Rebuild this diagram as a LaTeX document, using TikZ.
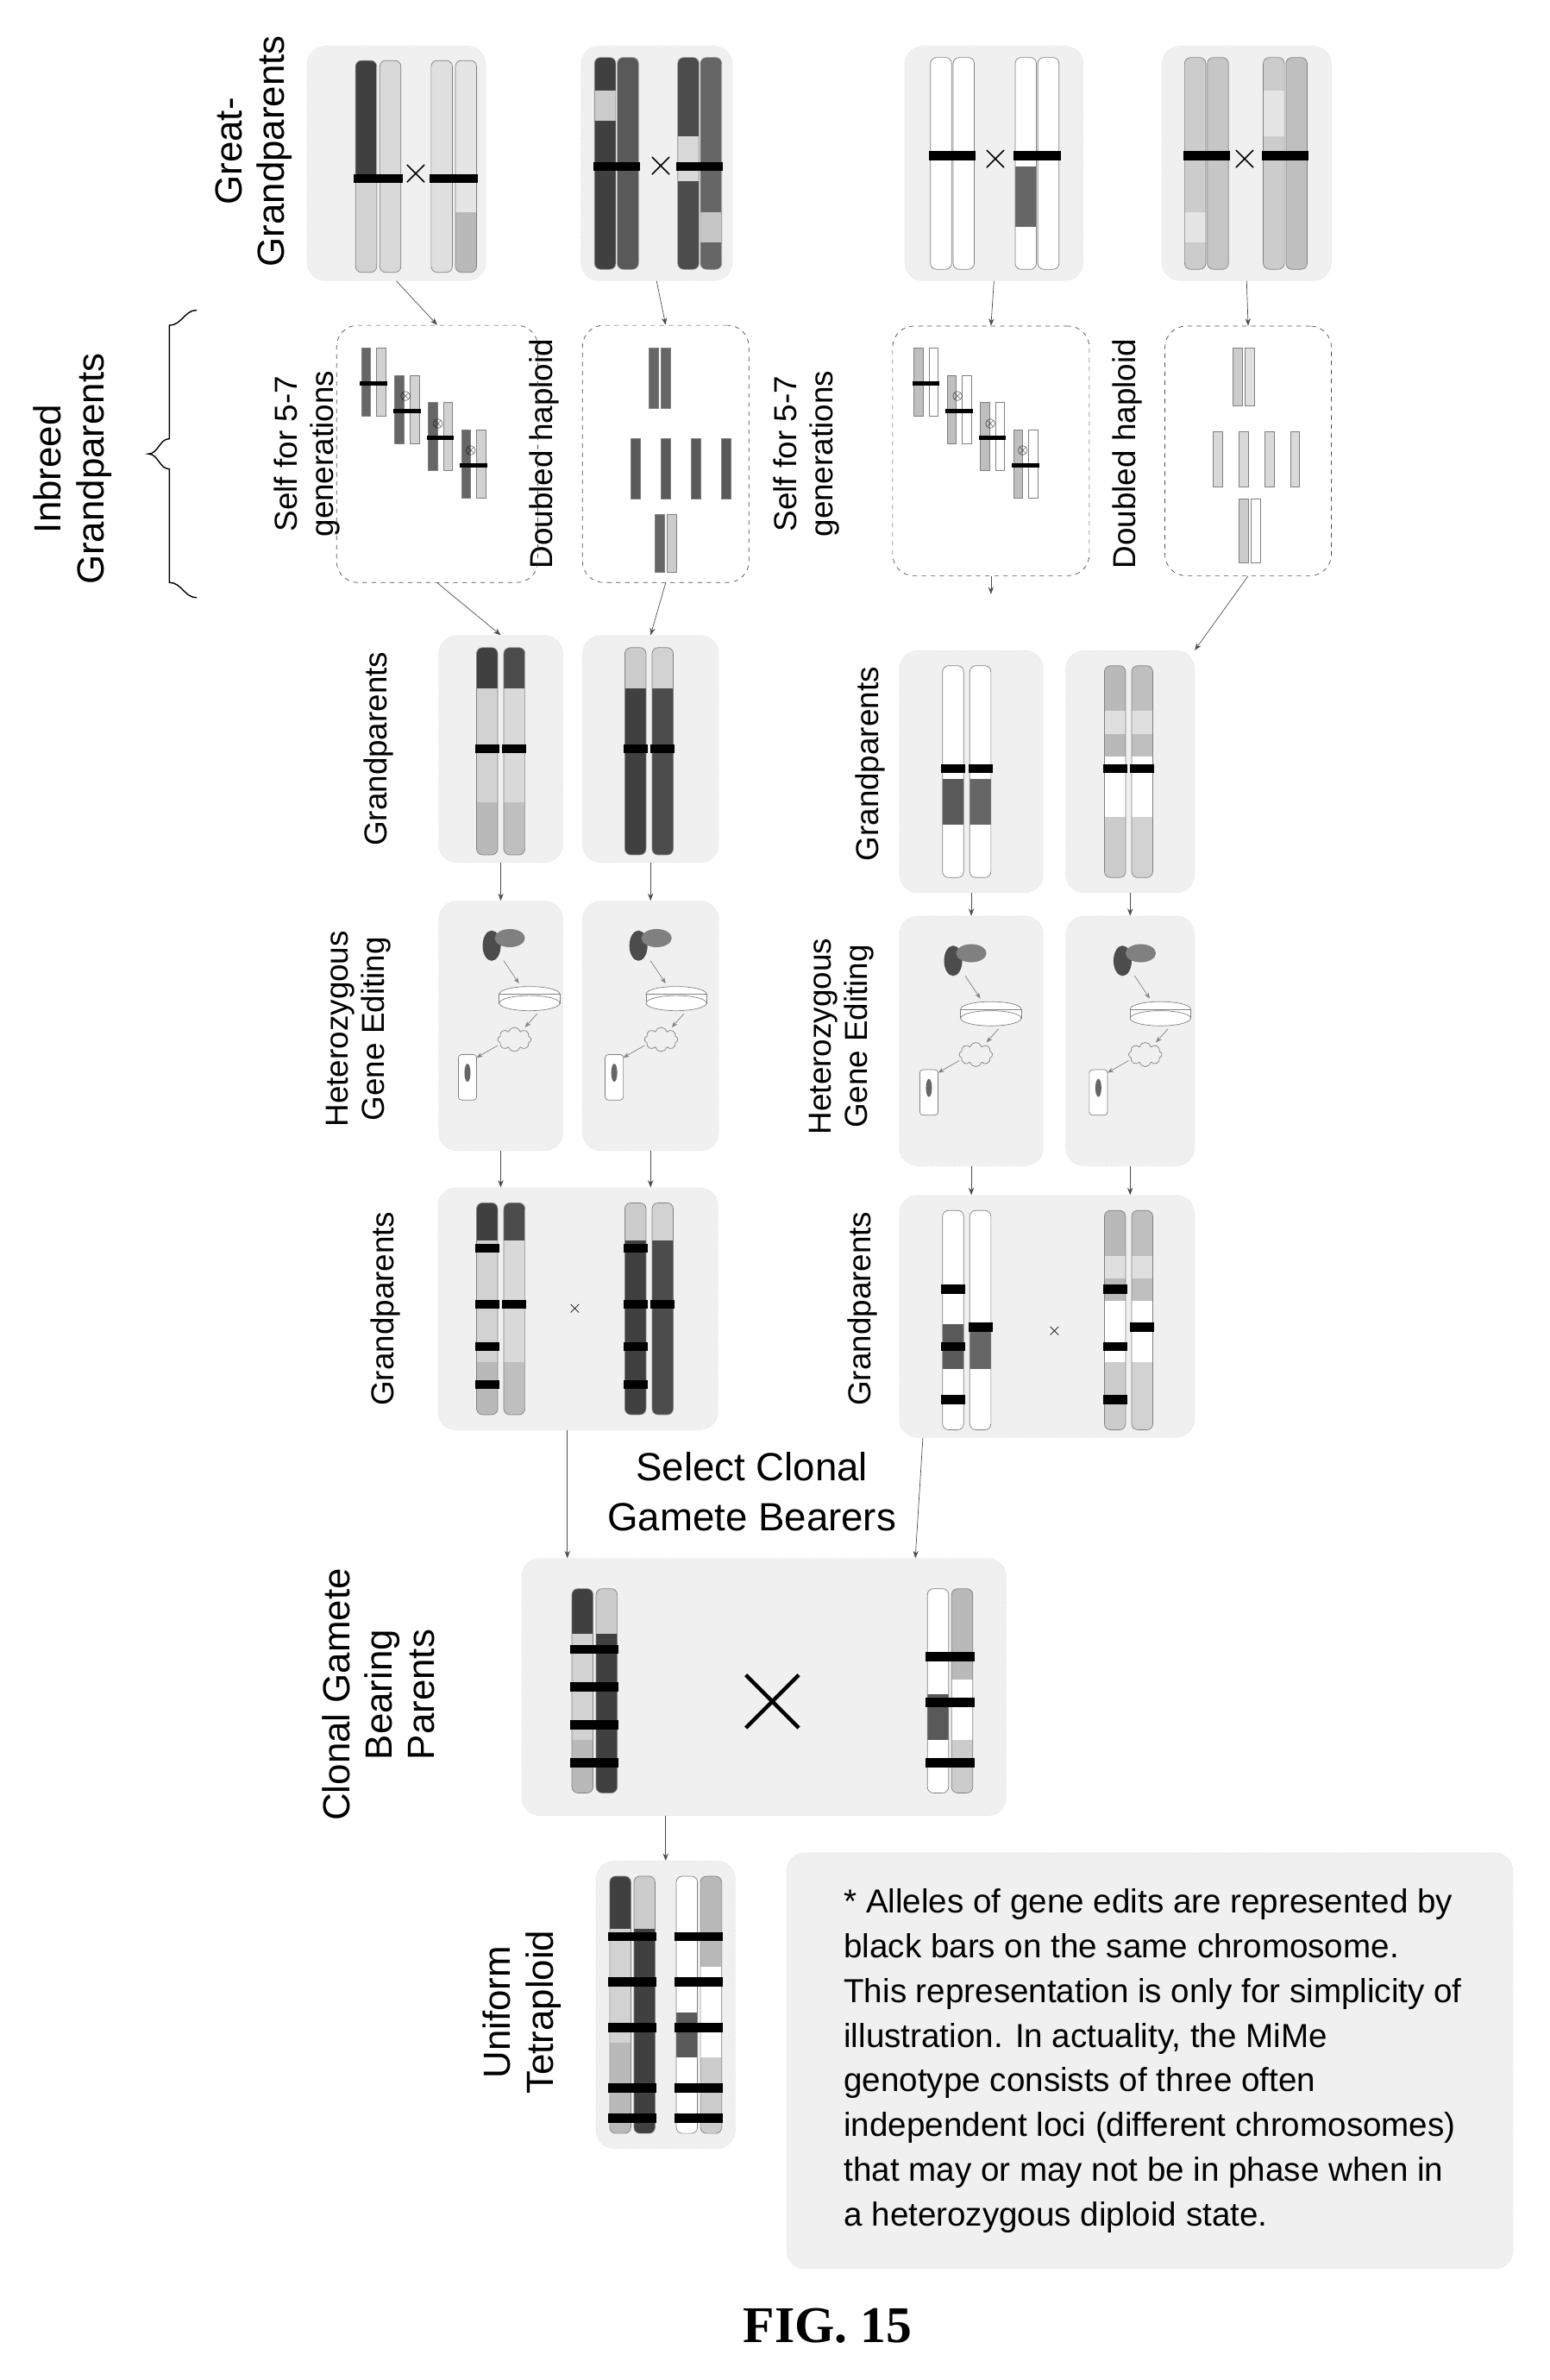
\documentclass[tikz,border=0pt]{standalone}
\usepackage{fontspec}
\setmainfont{Liberation Sans}
\newfontfamily\figfont{Liberation Serif}
\usetikzlibrary{arrows.meta,shapes.symbols}

% chromosome: x, top, bottom, bands {y1/y2/colour}
\newcommand{\chrom}[4]{%
  \begin{scope}
    \clip[rounded corners=4] (#1-7,#2) rectangle (#1+7,#3);
    \fill[white] (#1-7,#2) rectangle (#1+7,#3);
    \foreach \ya/\yb/\cc in {#4} {\fill[\cc] (#1-7,\ya) rectangle (#1+7,\yb);}
  \end{scope}
  \draw[rounded corners=4, gray, thin] (#1-7,#2) rectangle (#1+7,#3);}
% black bar across a chromosome
\newcommand{\edbar}[2]{\fill[black] (#1-8,#2-3) rectangle (#1+8,#2+3);}
% small chromosome
\newcommand{\schrom}[4]{\fill[#4,draw=gray] (#1-3,#2) rectangle (#1+3,#3);}
% editing panel contents centred at x, y
\newcommand{\editing}[2]{%
  \fill[black!70] (#1-10,#2-40) ellipse (6 and 10);
  \fill[black!50] (#1+2,#2-45) ellipse (10 and 6);
  \draw[-{Stealth[length=4pt]}, gray] (#1-2,#2-30) -- (#1+8,#2-15);
  \draw[gray, fill=white] (#1+15,#2-8) ellipse (20 and 5);
  \draw[gray, fill=white] (#1-5,#2-8) rectangle (#1+35,#2-2);
  \draw[gray, fill=white] (#1+15,#2-2) ellipse (20 and 5);
  \node[cloud, draw=gray, cloud puffs=8, minimum width=22pt, minimum height=16pt] at (#1+5,#2+22) {};
  \draw[-{Stealth[length=4pt]}, gray] (#1+20,#2+5) -- (#1+12,#2+14);
  \draw[-{Stealth[length=4pt]}, gray] (#1-6,#2+26) -- (#1-20,#2+34);
  \draw[gray, rounded corners=2, fill=white] (#1-32,#2+32) rectangle (#1-20,#2+62);
  \fill[black!60] (#1-26,#2+44) ellipse (2 and 6);}

\begin{document}
\begin{tikzpicture}[x=1pt, y=-1pt, >=Stealth,
    panel/.style={fill=gray!12, draw=gray!30, densely dotted, rounded corners=12},
    dashbox/.style={draw=black!70, dashed, rounded corners=14},
    lab/.style={rotate=90, font=\fontsize{21}{24}\selectfont, align=center},
    biglab/.style={rotate=90, font=\fontsize{25}{28}\selectfont, align=center},
    arr/.style={->, gray!60!black, thin}]

\useasboundingbox (0,0) rectangle (1024,1573);

% Labels
\node[biglab] (lgg) at (168,100) {Great-\\Grandparents};
\node[biglab] (lig) at (48,310) {Inbreed\\Grandparents};
\draw[thick] (130,205) to[out=180,in=0] (112,215) -- (112,290) to[out=180,in=0] (98,300)
  to[out=0,in=180] (112,310) -- (112,385) to[out=0,in=180] (130,395);
\node[lab] (lsf1) at (203,300) {Self for 5-7\\generations};
\node[lab] (ldh1) at (360,300) {Doubled haploid};
\node[lab] (lsf2) at (533,300) {Self for 5-7\\generations};
\node[lab] (ldh2) at (745,300) {Doubled haploid};

% Great-grandparent panels
\node[panel, minimum width=118pt, minimum height=155pt] (gg1) at (262,108) {};
\node[panel, minimum width=100pt, minimum height=155pt] (gg2) at (434,108) {};
\node[panel, minimum width=118pt, minimum height=155pt] (gg3) at (657,108) {};
\node[panel, minimum width=112pt, minimum height=155pt] (gg4) at (824,108) {};
\chrom{242}{40}{180}{40/120/black!75,120/180/gray!35}
\chrom{258}{40}{180}{40/180/gray!30}
\chrom{292}{40}{180}{40/180/gray!25}
\chrom{308}{40}{180}{40/140/gray!20,140/180/gray!55}
\foreach \x in {242,258,292,308} {\edbar{\x}{118}}
\node[font=\fontsize{30}{30}\selectfont] at (275,115) {$\times$};
\chrom{400}{38}{178}{38/178/black!75,60/80/gray!40}
\chrom{415}{38}{178}{38/178/black!65}
\chrom{455}{38}{178}{38/178/black!70,90/120/gray!30}
\chrom{470}{38}{178}{38/178/black!60,140/160/gray!45}
\foreach \x in {400,415,455,470} {\edbar{\x}{110}}
\node[font=\fontsize{30}{30}\selectfont] at (437,110) {$\times$};
\chrom{622}{38}{178}{38/178/white}
\chrom{637}{38}{178}{38/178/white}
\chrom{678}{38}{178}{110/150/black!60}
\chrom{693}{38}{178}{38/178/white}
\foreach \x in {622,637,678,693} {\edbar{\x}{103}}
\node[font=\fontsize{30}{30}\selectfont] at (658,105) {$\times$};
\chrom{790}{38}{178}{38/178/gray!40,140/160/gray!20}
\chrom{805}{38}{178}{38/178/gray!45}
\chrom{842}{38}{178}{38/178/gray!40,60/90/gray!20}
\chrom{857}{38}{178}{38/178/gray!50}
\foreach \x in {790,805,842,857} {\edbar{\x}{103}}
\node[font=\fontsize{30}{30}\selectfont] at (823,105) {$\times$};

% Inbreeding boxes
\node[dashbox, minimum width=133pt, minimum height=170pt] (sf1) at (289,300) {};
\node[dashbox, minimum width=110pt, minimum height=170pt] (dh1) at (440,300) {};
\node[dashbox, minimum width=130pt, minimum height=165pt] (sf2) at (655,298) {};
\node[dashbox, minimum width=110pt, minimum height=165pt] (dh2) at (825,298) {};
\foreach \sx/\sy in {0/0,22/18,44/36,66/54} {
  \schrom{242+\sx}{230+\sy}{275+\sy}{black!60}
  \schrom{252+\sx}{230+\sy}{275+\sy}{gray!35}
  \fill[black] (238+\sx,252+\sy) rectangle (256+\sx,255+\sy);
  \schrom{607+\sx}{230+\sy}{275+\sy}{gray!50}
  \schrom{617+\sx}{230+\sy}{275+\sy}{white}
  \fill[black] (603+\sx,252+\sy) rectangle (621+\sx,255+\sy);
}
\foreach \sy in {0,18,36} {
  \node[font=\small] at (268+\sy*1.2,262+\sy) {$\otimes$};
  \node[font=\small] at (633+\sy*1.2,262+\sy) {$\otimes$};
}
\schrom{432}{230}{270}{black!60}\schrom{440}{230}{270}{black!60}
\foreach \x in {420,440,460,480} {\schrom{\x}{290}{330}{black!65}}
\schrom{436}{340}{378}{black!60}\schrom{444}{340}{378}{gray!40}
\schrom{818}{230}{268}{gray!40}\schrom{826}{230}{268}{gray!25}
\foreach \x in {805,822,839,856} {\schrom{\x}{285}{322}{gray!30}}
\schrom{822}{330}{372}{gray!40}\schrom{830}{330}{372}{white}

% Grandparents
\node[lab] (lgp1) at (250,495) {Grandparents};
\node[lab] (lgp2) at (575,505) {Grandparents};
\node[panel, minimum width=82pt, minimum height=150pt] (gp1) at (331,495) {};
\node[panel, minimum width=90pt, minimum height=150pt] (gp2) at (430,495) {};
\node[panel, minimum width=95pt, minimum height=160pt] (gp3) at (642,510) {};
\node[panel, minimum width=85pt, minimum height=160pt] (gp4) at (747,510) {};
\chrom{322}{428}{565}{428/455/black!75,455/530/gray!35,530/565/gray!55}
\chrom{340}{428}{565}{428/455/black!70,455/530/gray!30,530/565/gray!50}
\chrom{420}{428}{565}{428/455/gray!40,455/565/black!75}
\chrom{438}{428}{565}{428/455/gray!35,455/565/black!70}
\chrom{630}{440}{580}{515/545/black!65}
\chrom{648}{440}{580}{515/545/black!60}
\chrom{737}{440}{580}{440/500/gray!55,470/485/gray!25,540/580/gray!40}
\chrom{755}{440}{580}{440/500/gray!50,470/485/gray!25,540/580/gray!35}
\foreach \x in {322,340,420,438} {\edbar{\x}{495}}
\foreach \x in {630,648,737,755} {\edbar{\x}{508}}

% Gene editing
\node[lab] (lge1) at (237,680) {Heterozygous\\Gene Editing};
\node[lab] (lge2) at (556,685) {Heterozygous\\Gene Editing};
\node[panel, minimum width=82pt, minimum height=165pt] (ge1) at (331,678) {};
\node[panel, minimum width=90pt, minimum height=165pt] (ge2) at (430,678) {};
\node[panel, minimum width=95pt, minimum height=165pt] (ge3) at (642,688) {};
\node[panel, minimum width=85pt, minimum height=165pt] (ge4) at (747,688) {};
\editing{335}{665}
\editing{432}{665}
\editing{640}{675}
\editing{752}{675}

% Edited grandparents
\node[lab] (lgp3) at (255,865) {Grandparents};
\node[lab] (lgp4) at (570,865) {Grandparents};
\node[panel, minimum width=185pt, minimum height=160pt] (gx1) at (382,865) {};
\node[panel, minimum width=195pt, minimum height=160pt] (gx2) at (692,870) {};
\chrom{322}{795}{935}{795/820/black!75,820/900/gray!35,900/935/gray!55}
\chrom{340}{795}{935}{795/820/black!70,820/900/gray!30,900/935/gray!50}
\chrom{420}{795}{935}{795/820/gray!40,820/935/black!75}
\chrom{438}{795}{935}{795/820/gray!35,820/935/black!70}
\foreach \y in {825,862,890,915} {\edbar{322}{\y}\edbar{420}{\y}}
\edbar{340}{862}\edbar{438}{862}
\node[font=\large] at (380,865) {$\times$};
\chrom{630}{800}{945}{875/905/black!65}
\chrom{648}{800}{945}{875/905/black!60}
\chrom{737}{800}{945}{800/860/gray!55,830/845/gray!25,900/945/gray!40}
\chrom{755}{800}{945}{800/860/gray!50,830/845/gray!25,900/945/gray!35}
\foreach \y in {852,890,925} {\edbar{630}{\y}\edbar{737}{\y}}
\edbar{648}{877}\edbar{755}{877}
\node[font=\large] at (697,880) {$\times$};

% Select
\node[font=\fontsize{26}{33}\selectfont, align=center] (sel) at (497,986) {Select Clonal\\Gamete Bearers};

% Clonal gamete bearing parents
\node[biglab] (lcp) at (250,1120) {Clonal Gamete\\Bearing\\Parents};
\node[panel, minimum width=320pt, minimum height=170pt] (cp) at (505,1115) {};
\chrom{385}{1050}{1185}{1050/1080/black!75,1080/1150/gray!35,1150/1185/gray!55}
\chrom{401}{1050}{1185}{1050/1080/gray!40,1080/1185/black!75}
\foreach \y in {1090,1115,1140,1165} {\edbar{385}{\y}\edbar{401}{\y}}
\chrom{620}{1050}{1185}{1120/1150/black!65}
\chrom{636}{1050}{1185}{1050/1110/gray!55,1150/1185/gray!40}
\foreach \y in {1095,1125,1165} {\edbar{620}{\y}\edbar{636}{\y}}
\draw[line width=2.5pt] (493,1107) -- (528,1142) (493,1142) -- (528,1107);

% Tetraploid
\node[biglab] (ltp) at (345,1330) {Uniform\\Tetraploid};
\node[panel, minimum width=92pt, minimum height=190pt] (tp) at (440,1325) {};
\chrom{410}{1240}{1410}{1240/1275/black!75,1275/1350/gray!35,1350/1410/gray!55}
\chrom{426}{1240}{1410}{1240/1275/gray!40,1275/1410/black!75}
\chrom{454}{1240}{1410}{1330/1360/black!65}
\chrom{470}{1240}{1410}{1240/1300/gray!55,1360/1410/gray!40}
\foreach \y in {1280,1310,1340,1380,1400} {\foreach \x in {410,426,454,470} {\edbar{\x}{\y}}}

% Note
\node[panel, minimum width=480pt, minimum height=275pt] (note) at (760,1362) {};
\node[font=\fontsize{22}{29.5}\selectfont, align=left] (notetxt) at (762,1362)
  {* Alleles of gene edits are represented by\\ black bars on the same chromosome.\\
   This representation is only for simplicity of\\ illustration. In actuality, the MiMe\\
   genotype consists of three often\\ independent loci (different chromosomes)\\
   that may or may not be in phase when in\\ a heterozygous diploid state.};

\node[font=\fontsize{34}{38}\selectfont\bfseries\figfont] (fig) at (547,1537) {FIG. 15};

% Arrows
\foreach \a/\b in {gg1/sf1,gg2/dh1,gg3/sf2,gg4/dh2,gp1/ge1,gp2/ge2,gp3/ge3,gp4/ge4}
  {\draw[arr] (\a.south) -- (\b.north);}
\draw[arr] (sf1.south) -- (gp1.north);
\draw[arr] (dh1.south) -- (gp2.north);
\draw[arr] (sf2.south) -- ++(0,12);
\draw[arr] (dh2.south) -- (gp4.north east);
\draw[arr] (cp.south -| tp.north) -- (tp.north);
\draw[arr] (ge1.south) -- (gx1.north -| ge1.south);
\draw[arr] (ge2.south) -- (gx1.north -| ge2.south);
\draw[arr] (ge3.south) -- (gx2.north -| ge3.south);
\draw[arr] (ge4.south) -- (gx2.north -| ge4.south);
\draw[arr] (gx1.south -| 375,0) -- (cp.north -| 375,0);
\draw[arr] (gx2.south -| 610,0) -- (cp.north -| 605,0);
\end{tikzpicture}
\end{document}
